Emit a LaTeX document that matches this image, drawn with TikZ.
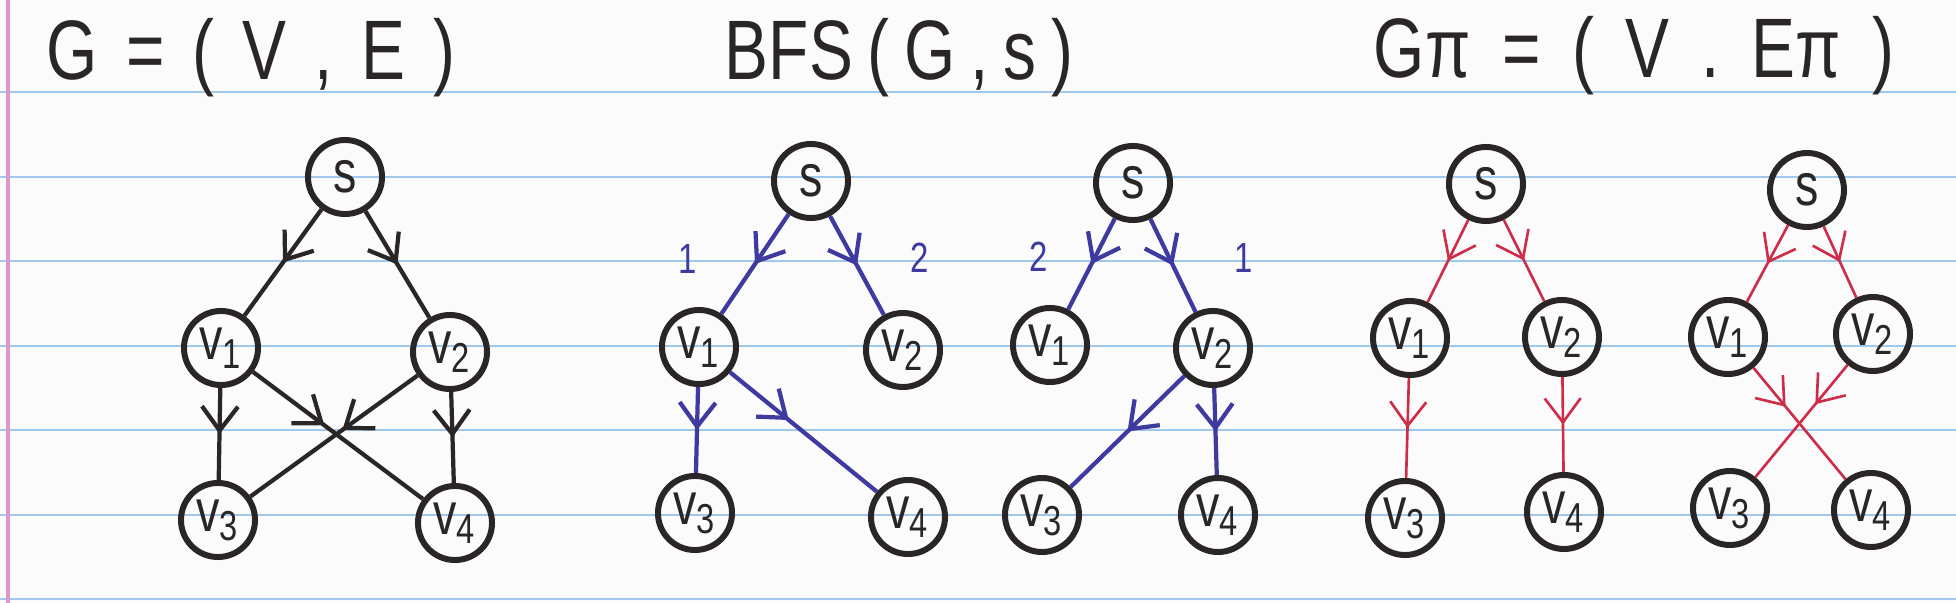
\documentclass[tikz,border=0pt]{standalone}
\usepackage{fontspec}
\newfontfamily\handfont[FakeStretch=0.78]{Liberation Sans}
\usetikzlibrary{arrows.meta,decorations.markings}

\definecolor{ink}{RGB}{42,38,38}
\definecolor{bfsblue}{RGB}{62,58,160}
\definecolor{treered}{RGB}{205,45,72}
\definecolor{paper}{RGB}{251,251,252}
\definecolor{ruleblue}{RGB}{160,200,235}
\definecolor{marginpink}{RGB}{222,150,205}

\begin{document}
\begin{tikzpicture}[x=0.01cm,y=-0.01cm,
  vertex/.style={circle,draw=ink,line width=1.7pt,minimum size=0.74cm,inner sep=0pt,
    text=ink,font=\handfont\fontsize{17}{17}\selectfont},
  midtip/.style={postaction={decorate},decoration={markings,
    mark=at position #1 with {\arrow{Straight Barb[length=2.4mm,width=3.6mm]}}}},
  midtip/.default=0.5,
  gedge/.style={color=ink,line width=1.2pt},
  bedge/.style={color=bfsblue,line width=1.2pt},
  pedge/.style={color=treered,line width=0.75pt},
  order/.style={text=bfsblue,inner sep=0pt,font=\handfont\fontsize{12}{12}\selectfont},
  title/.style={text=ink,font={\handfont\fontsize{24}{24}\selectfont\spaceskip=#1\relax}},
  ruling/.style={draw=ruleblue,line width=0.7pt},
  marginline/.style={draw=marginpink,line width=0.9pt}]

  \useasboundingbox (0,0) rectangle (1956,603);
  \fill[paper] (0,0) rectangle (1956,603);
  % ruled paper
  \foreach \y in {92,177,261,346,430,515,599}
    \draw[ruling] (0,\y) -- (1956,\y);
  \draw[marginline] (8,0) -- (8,603);

  % titles
  \node[title=8pt] (tg) at (251,58) {G = ( V , E )};
  \node[title=4.2pt] (tb) at (899,58) {BFS ( G , s )};
  \node[title=9pt] (tp) at (1634,56) {Gπ = ( V . Eπ )};

  % G = (V,E)
  \node[vertex] (gs) at (345,177) {s};
  \node[vertex] (g1) at (221,348) {v\textsubscript{1}};
  \node[vertex] (g2) at (450,352) {v\textsubscript{2}};
  \node[vertex] (g3) at (218,520) {v\textsubscript{3}};
  \node[vertex] (g4) at (455,523) {v\textsubscript{4}};

  \path[gedge] (gs) edge[midtip] (g1)
        (gs) edge[midtip] (g2)
        (g1) edge[midtip] (g3)
        (g2) edge[midtip] (g4)
        (g1) edge[midtip=0.42] (g4)
        (g2) edge[midtip=0.45] (g3);

  % BFS, s -> v1 first
  \node[vertex] (as) at (811,181) {s};
  \node[vertex] (a1) at (699,347) {v\textsubscript{1}};
  \node[vertex] (a2) at (903,350) {v\textsubscript{2}};
  \node[vertex] (a3) at (695,513) {v\textsubscript{3}};
  \node[vertex] (a4) at (908,517) {v\textsubscript{4}};

  \path[bedge] (as) edge[midtip] node[order,pos=0.45,left=5.9mm] {1} (a1)
        (as) edge[midtip] node[order,pos=0.42,right=5.6mm] {2} (a2)
        (a1) edge[midtip] (a3)
        (a1) edge[midtip=0.4] (a4);

  % BFS, s -> v2 first
  \node[vertex] (bs) at (1133,183) {s};
  \node[vertex] (b1) at (1050,345) {v\textsubscript{1}};
  \node[vertex] (b2) at (1213,348) {v\textsubscript{2}};
  \node[vertex] (b3) at (1042,515) {v\textsubscript{3}};
  \node[vertex] (b4) at (1218,515) {v\textsubscript{4}};

  \path[bedge] (bs) edge[midtip] node[order,pos=0.42,left=4.5mm] {2} (b1)
        (bs) edge[midtip] node[order,pos=0.42,right=6.3mm] {1} (b2)
        (b2) edge[midtip] (b3)
        (b2) edge[midtip] (b4);

  % G_pi, first tree
  \node[vertex] (ps) at (1486,184) {s};
  \node[vertex] (p1) at (1410,338) {v\textsubscript{1}};
  \node[vertex] (p2) at (1562,337) {v\textsubscript{2}};
  \node[vertex] (p3) at (1405,518) {v\textsubscript{3}};
  \node[vertex] (p4) at (1564,512) {v\textsubscript{4}};

  \path[pedge] (ps) edge[midtip] (p1)
        (ps) edge[midtip] (p2)
        (p1) edge[midtip] (p3)
        (p2) edge[midtip] (p4);

  % G_pi, second tree
  \node[vertex] (qs) at (1807,190) {s};
  \node[vertex] (q1) at (1728,337) {v\textsubscript{1}};
  \node[vertex] (q2) at (1873,334) {v\textsubscript{2}};
  \node[vertex] (q3) at (1730,508) {v\textsubscript{3}};
  \node[vertex] (q4) at (1871,510) {v\textsubscript{4}};

  \path[pedge] (qs) edge[midtip] (q1)
        (qs) edge[midtip] (q2)
        (q1) edge[midtip=0.35] (q4)
        (q2) edge[midtip=0.35] (q3);
\end{tikzpicture}
\end{document}
